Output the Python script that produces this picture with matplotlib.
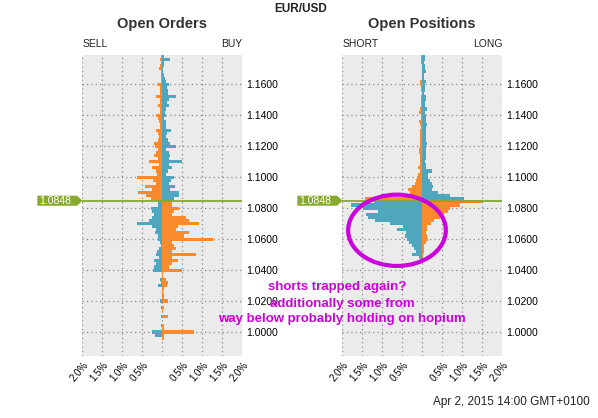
import matplotlib
matplotlib.use("Agg")
import matplotlib.pyplot as plt
import numpy as np
from matplotlib.path import Path
from matplotlib.patches import Ellipse

plt.rcParams['font.family'] = ['Liberation Sans', 'DejaVu Sans']

# price bins (0.002 wide), from top of chart down
PRICE_LEVELS = np.round(np.arange(1.178, 0.9855, -0.002), 3)
CURRENT_PRICE = 1.0848

# Open Orders, % of total (left = sell side, right = buy side)
ORDERS_SELL = [
    0.03, 0.06, 0.03, 0.05, 0.08, 0.03, 0.03, 0.03, 0.04, 0.12, 0.06, 0.05,
    0.05, 0.17, 0.06, 0.05, 0.12, 0.07, 0.05, 0.17, 0.10, 0.08, 0.07, 0.06,
    0.17, 0.10, 0.08, 0.12, 0.22, 0.19, 0.10, 0.17, 0.20, 0.12, 0.33, 0.08,
    0.27, 0.17, 0.14, 0.63, 0.23, 0.17, 0.43, 0.27, 0.61, 0.42, 0.29,
    0.12, 0.10, 0.29, 0.27, 0.21, 0.25, 0.33, 0.63, 0.27, 0.17, 0.18, 0.10,
    0.10, 0.07, 0.04, 0.08, 0.13, 0.17, 0.08, 0.21, 0.17, 0.21, 0.23, 0.02,
    0.00, 0.07, 0.04, 0.10, 0.00, 0.00, 0.02, 0.00, 0.07, 0.00, 0.03, 0.00,
    0.00, 0.04, 0.00, 0.00, 0.04, 0.00, 0.27, 0.18, 0.00, 0.00, 0.00, 0.00,
    0.00, 0.00,
]
ORDERS_BUY = [
    0.03, 0.20, 0.05, 0.03, 0.02, 0.02, 0.04, 0.06, 0.08, 0.17, 0.12, 0.15,
    0.14, 0.35, 0.17, 0.12, 0.17, 0.08, 0.07, 0.10, 0.05, 0.10, 0.10, 0.08,
    0.22, 0.11, 0.10, 0.15, 0.18, 0.33, 0.09, 0.17, 0.19, 0.17, 0.48, 0.17,
    0.25, 0.13, 0.08, 0.29, 0.21, 0.17, 0.32, 0.20, 0.42, 0.42, 0.30,
    0.23, 0.23, 0.42, 0.29, 0.25, 0.60, 0.67, 0.92, 0.38, 0.33, 0.67, 0.54,
    1.27, 0.25, 0.29, 0.35, 0.25, 0.83, 0.25, 0.38, 0.25, 0.17, 0.48, 0.02,
    0.02, 0.08, 0.14, 0.12, 0.04, 0.02, 0.04, 0.04, 0.15, 0.00, 0.04, 0.02,
    0.00, 0.15, 0.00, 0.00, 0.03, 0.04, 0.78, 0.05, 0.04, 0.00, 0.00, 0.00,
    0.00, 0.00,
]

# Open Positions, % of total (left = short, right = long)
POSITIONS_SHORT = [
    0.03, 0.03, 0.04, 0.02, 0.02, 0.00, 0.00, 0.00, 0.06, 0.05, 0.04, 0.03,
    0.01, 0.04, 0.03, 0.03, 0.03, 0.05, 0.09, 0.03, 0.03, 0.08, 0.07, 0.04,
    0.05, 0.05, 0.07, 0.07, 0.07, 0.07, 0.08, 0.08, 0.05, 0.07, 0.07, 0.05,
    0.11, 0.07, 0.11, 0.13, 0.17, 0.19, 0.25, 0.36, 0.32, 0.45, 1.43,
    1.20, 1.78, 1.48, 1.10, 1.40, 1.37, 1.19, 0.80, 0.48, 0.63, 0.42, 0.44,
    0.38, 0.33, 0.25, 0.20, 0.15, 0.27, 0.08, 0.02, 0.00, 0.00, 0.00, 0.00,
    0.00, 0.00, 0.00, 0.00, 0.00, 0.00, 0.00, 0.00, 0.00, 0.00, 0.00, 0.00,
    0.00, 0.00, 0.00, 0.00, 0.00, 0.00, 0.00, 0.00, 0.00, 0.00, 0.00, 0.00,
    0.00, 0.00,
]
POSITIONS_LONG = [
    0.06, 0.06, 0.05, 0.06, 0.06, 0.08, 0.05, 0.05, 0.08, 0.07, 0.07, 0.06,
    0.05, 0.08, 0.08, 0.07, 0.07, 0.12, 0.07, 0.09, 0.09, 0.10, 0.12, 0.08,
    0.10, 0.10, 0.09, 0.10, 0.12, 0.10, 0.10, 0.10, 0.08, 0.10, 0.06, 0.10,
    0.10, 0.23, 0.15, 0.13, 0.18, 0.23, 0.27, 0.23, 0.39, 0.68, 1.04,
    1.48, 0.95, 0.70, 0.65, 0.53, 0.45, 0.30, 0.22, 0.12, 0.11, 0.10, 0.12,
    0.15, 0.10, 0.05, 0.03, 0.03, 0.02, 0.02, 0.00, 0.00, 0.00, 0.00, 0.00,
    0.00, 0.00, 0.00, 0.00, 0.00, 0.00, 0.00, 0.00, 0.00, 0.00, 0.00, 0.00,
    0.00, 0.00, 0.00, 0.00, 0.00, 0.00, 0.00, 0.00, 0.00, 0.00, 0.00, 0.00,
    0.00, 0.00,
]

X_TICKS = [-2.0, -1.5, -1.0, -0.5, 0.0, 0.5, 1.0, 1.5, 2.0]
X_LABELS = ["2.0%", "1.5%", "1.0%", "0.5%", "", "0.5%", "1.0%", "1.5%", "2.0%"]
Y_TICKS = [1.00, 1.02, 1.04, 1.06, 1.08, 1.10, 1.12, 1.14, 1.16]

ORANGE = "#fb8a2c"
BLUE = "#4ea6bf"
GREEN = "#86a92e"
MAGENTA = "#cc00dd"
BIN = 0.002


def tag_box(x0, y0, width, height, mutation_size):
    # flag-like label pointing right, at the current price
    left = x0 - 0.15 * mutation_size
    right = x0 + width + 0.6 * mutation_size
    tip = right + 0.5 * mutation_size
    top = y0 + height
    return Path([(left, y0), (right, y0), (tip, y0 + height / 2), (right, top),
                 (left, top), (left, y0)], closed=True)


def draw_book(ax, left_vals, right_vals, left_name, right_name):
    above = PRICE_LEVELS > CURRENT_PRICE
    ax.barh(PRICE_LEVELS, -np.asarray(left_vals), height=BIN,
            color=np.where(above, ORANGE, BLUE), linewidth=0, zorder=2)
    ax.barh(PRICE_LEVELS, right_vals, height=BIN,
            color=np.where(above, BLUE, ORANGE), linewidth=0, zorder=2)
    ax.axhline(CURRENT_PRICE, color=GREEN, lw=1.3, zorder=3)

    ax.set_facecolor("#ebebeb")
    ax.set_xlim(-2, 2)
    ax.set_ylim(0.9847, 1.1789)
    for s in ax.spines.values():
        s.set_visible(False)
    ax.set_xticks(X_TICKS)
    ax.set_xticklabels(X_LABELS, rotation=50, ha="right", va="top",
                       rotation_mode="anchor", fontsize=7)
    ax.set_yticks(Y_TICKS)
    ax.set_yticklabels([f"{v:.4f}" for v in Y_TICKS], fontsize=7.5)
    ax.yaxis.tick_right()
    ax.tick_params(axis="both", length=0)
    ax.tick_params(axis="y", pad=3)
    ax.tick_params(axis="x", pad=3)
    ax.grid(True, color="#8a8a8a", linestyle=(0, (1, 2.5)), linewidth=0.9, zorder=1)
    ax.set_axisbelow(True)

    ax.text(0, 1.02, left_name, transform=ax.transAxes, ha="left", va="bottom",
            fontsize=7.5, color="#222222")
    ax.text(1, 1.02, right_name, transform=ax.transAxes, ha="right", va="bottom",
            fontsize=7.5, color="#222222")

    ax.annotate(f"{CURRENT_PRICE:.4f}", xy=(0, CURRENT_PRICE),
                xycoords=("axes fraction", "data"), xytext=(-8.2, 0),
                textcoords="offset points", ha="right", va="center",
                color="white", fontsize=7.5, annotation_clip=False,
                bbox=dict(boxstyle=tag_box, fc=GREEN, ec="none"))


fig = plt.figure(figsize=(5.98, 4.18), dpi=100)
ax1 = fig.add_axes([82.3 / 598, 1 - 355.7 / 418, 160 / 598, 300.7 / 418])
ax2 = fig.add_axes([342.3 / 598, 1 - 355.7 / 418, 160 / 598, 300.7 / 418])

draw_book(ax1, ORDERS_SELL, ORDERS_BUY, "SELL", "BUY")
draw_book(ax2, POSITIONS_SHORT, POSITIONS_LONG, "SHORT", "LONG")

fig.text(301 / 598, 1 - 8.5 / 418, "EUR/USD", ha="center", va="center",
         fontsize=8.5, fontweight="bold", color="#222222")
fig.text(162 / 598, 1 - 24 / 418, "Open Orders", ha="center", va="center",
         fontsize=10.5, fontweight="bold", color="#333333")
fig.text(422 / 598, 1 - 24 / 418, "Open Positions", ha="center", va="center",
         fontsize=10.5, fontweight="bold", color="#333333")
fig.text(590 / 598, 1 - 401.5 / 418, "Apr 2, 2015 14:00 GMT+0100", ha="right",
         va="center", fontsize=8.5, color="#222222")

# hand-drawn style annotation
fig.add_artist(Ellipse((397 / 598, 1 - 230.3 / 418), 97.7 / 598, 71.3 / 418,
                       transform=fig.transFigure, fill=False, ec=MAGENTA, lw=3, zorder=5))
notes = ["shorts trapped again?", "additionally some from",
         "way below probably holding on hopium"]
for y, (cx, line) in zip([286.7, 303.7, 319.3], zip([337, 342, 342], notes)):
    fig.text(cx / 598, 1 - y / 418, line, ha="center", va="center",
             fontsize=9.5, fontweight="bold", color=MAGENTA)

fig.savefig("out.png", dpi=100)
